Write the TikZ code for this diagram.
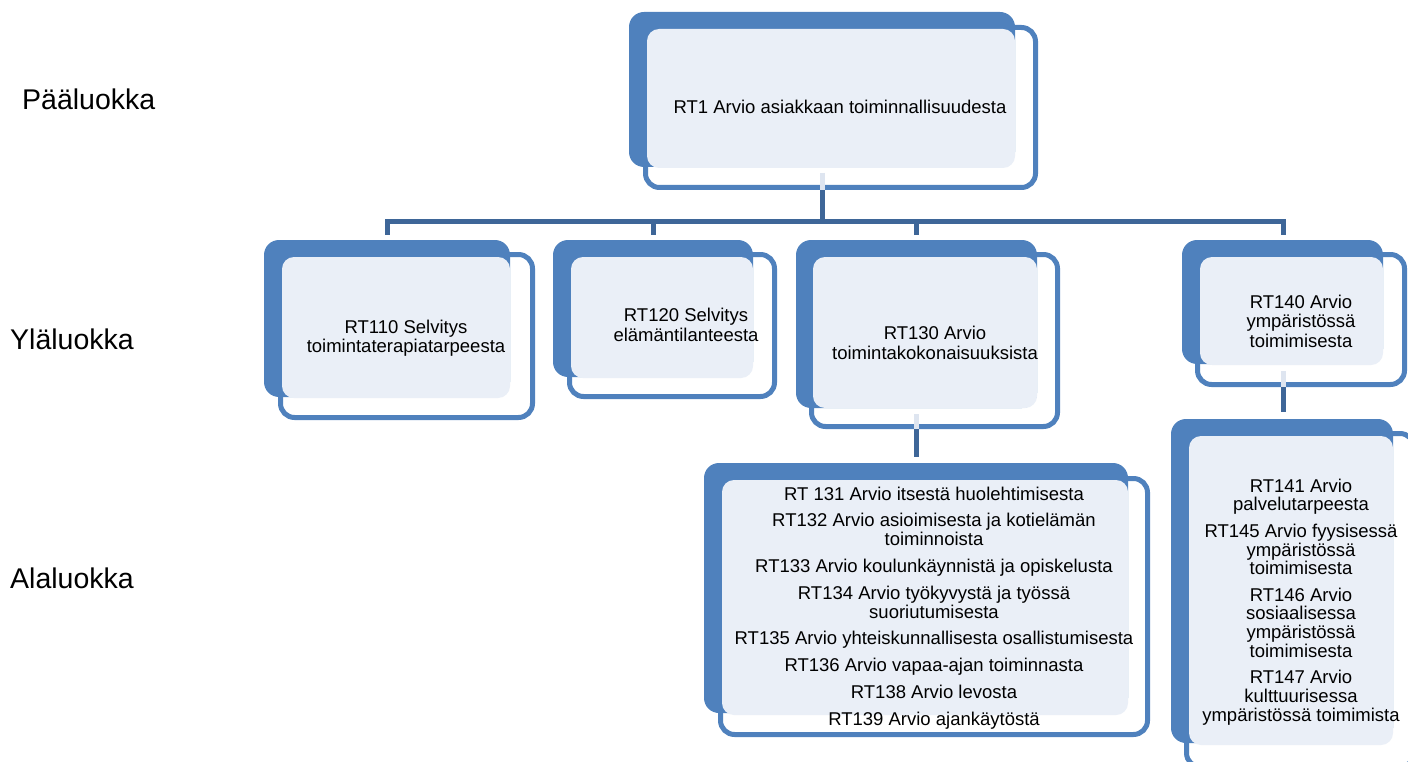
\documentclass[tikz,border=0pt]{standalone}
\usepackage{fontspec}
\setmainfont{Liberation Sans}
\usetikzlibrary{fit}
\definecolor{skblue}{RGB}{79,129,189}
\definecolor{skdark}{RGB}{62,102,152}
\definecolor{sklight}{RGB}{234,239,247}
\definecolor{skseg}{RGB}{222,229,240}
\tikzset{
  skframe/.style={draw=skblue, line width=5pt, fill=white, rounded corners=14pt, inner sep=0pt, outer sep=2.5pt},
  skback/.style={fill=skblue, rounded corners=15pt},
  sklightbox/.style={fill=sklight, rounded corners=12pt},
  skconn/.style={draw=skdark, line width=5pt},
  skseg/.style={draw=skseg, line width=5pt},
  sktxt/.style={font=\fontsize{18.5}{19.5}\selectfont, align=center, text=black, inner sep=0pt},
  sklist/.style={font=\fontsize{18.5}{18.8}\selectfont, align=center, text=black, inner sep=0pt},
  skside/.style={font=\fontsize{28.5}{30}\selectfont, anchor=base west, inner sep=0pt}
}
\begin{document}
\begin{tikzpicture}[x=1pt,y=-1pt]
\useasboundingbox (0,0) rectangle (1408,762);

% side labels
\node[skside] (l1) at (22,110) {Pääluokka};
\node[skside] (l2) at (10,349) {Yläluokka};
\node[skside] (l3) at (10,588) {Alaluokka};

% frames (white with blue outline)
\node[skframe, fit={(645.5,27.5)(1035.5,187.5)}] (f1) {};
\node[skframe, fit={(280.5,254.5)(532.5,417.5)}] (f110) {};
\node[skframe, fit={(569.5,254.5)(774.5,396.5)}] (f120) {};
\node[skframe, fit={(811.5,254.5)(1057.5,426.5)}] (f130) {};
\node[skframe, fit={(1197.5,254.5)(1404.5,384.5)}] (f140) {};
\node[skframe, fit={(720.5,478.5)(1147.5,734.5)}] (f13x) {};
\node[skframe, fit={(1186.5,433.5)(1414,767)}] (f14x) {};

% blue backs
\fill[skback] (629,12) rectangle (1015,167);
\fill[skback] (264,240) rectangle (510,397);
\fill[skback] (553,240) rectangle (753,377);
\fill[skback] (796,240) rectangle (1037,408);
\fill[skback] (1182,240) rectangle (1383,364);
\fill[skback] (704,463) rectangle (1128,713);
\fill[skback] (1171,419) rectangle (1393,743);

% light faces
\fill[sklightbox] (647,29) rectangle (1015,168);
\fill[sklightbox] (282,257) rectangle (510,398);
\fill[sklightbox] (571,257) rectangle (753,378);
\fill[sklightbox] (813,257) rectangle (1037,408);
\fill[sklightbox] (1200,257) rectangle (1383,365);
\fill[sklightbox] (722,480) rectangle (1128,715);
\fill[sklightbox] (1189,436) rectangle (1393,745);

% connectors
\coordinate (j0) at (822,222);
\coordinate (s1) at (822,173);
\coordinate (d1) at (387,235);
\coordinate (d2) at (653,235);
\coordinate (d3) at (916,235);
\coordinate (d4) at (1283,235);
\coordinate (s3) at (916,414);
\coordinate (e3) at (916,457);
\coordinate (s4) at (1283,371);
\coordinate (e4) at (1283,412);

\draw[skseg] (s1) -- (f1.south -| s1);
\draw[skconn] (f1.south -| s1) -- ([yshift=-2.5pt]j0);
\draw[skconn] (d1) -- (d1 |- j0) -- (d4 |- j0) -- (d4);
\draw[skconn] (d2 |- j0) -- (d2);
\draw[skconn] (d3 |- j0) -- (d3);

\draw[skseg] (s3) -- (f130.south -| s3);
\draw[skconn] (f130.south -| s3) -- (e3);
\draw[skseg] (s4) -- (f140.south -| s4);
\draw[skconn] (f140.south -| s4) -- (e4);

% texts
\node[sktxt] (t1) at (840,107) {RT1 Arvio asiakkaan toiminnallisuudesta};
\node[sktxt] (t110) at (406,338) {RT110 Selvitys\\toimintaterapiatarpeesta};
\node[sktxt] (t120) at (686,325) {RT120 Selvitys\\elämäntilanteesta};
\node[sktxt] (t130) at (935,343) {RT130 Arvio\\toimintakokonaisuuksista};
\node[sktxt] (t140) at (1301,321) {RT140 Arvio\\ympäristössä\\toimimisesta};
\node[sklist] (t13x) at (934,608) {RT 131 Arvio itsestä huolehtimisesta\\[8pt]
RT132 Arvio asioimisesta ja kotielämän\\toiminnoista\\[8pt]
RT133 Arvio koulunkäynnistä ja opiskelusta\\[8pt]
RT134 Arvio työkyvystä ja työssä\\suoriutumisesta\\[8pt]
RT135 Arvio yhteiskunnallisesta osallistumisesta\\[8pt]
RT136 Arvio vapaa-ajan toiminnasta\\[8pt]
RT138 Arvio levosta\\[8pt]
RT139 Arvio ajankäytöstä};
\node[sklist] (t14x) at (1301,602) {RT141 Arvio\\palvelutarpeesta\\[7.5pt]
RT145 Arvio fyysisessä\\ympäristössä\\toimimisesta\\[7.5pt]
RT146 Arvio\\sosiaalisessa\\ympäristössä\\toimimisesta\\[7.5pt]
RT147 Arvio\\kulttuurisessa\\ympäristössä toimimista};
\end{tikzpicture}
\end{document}
